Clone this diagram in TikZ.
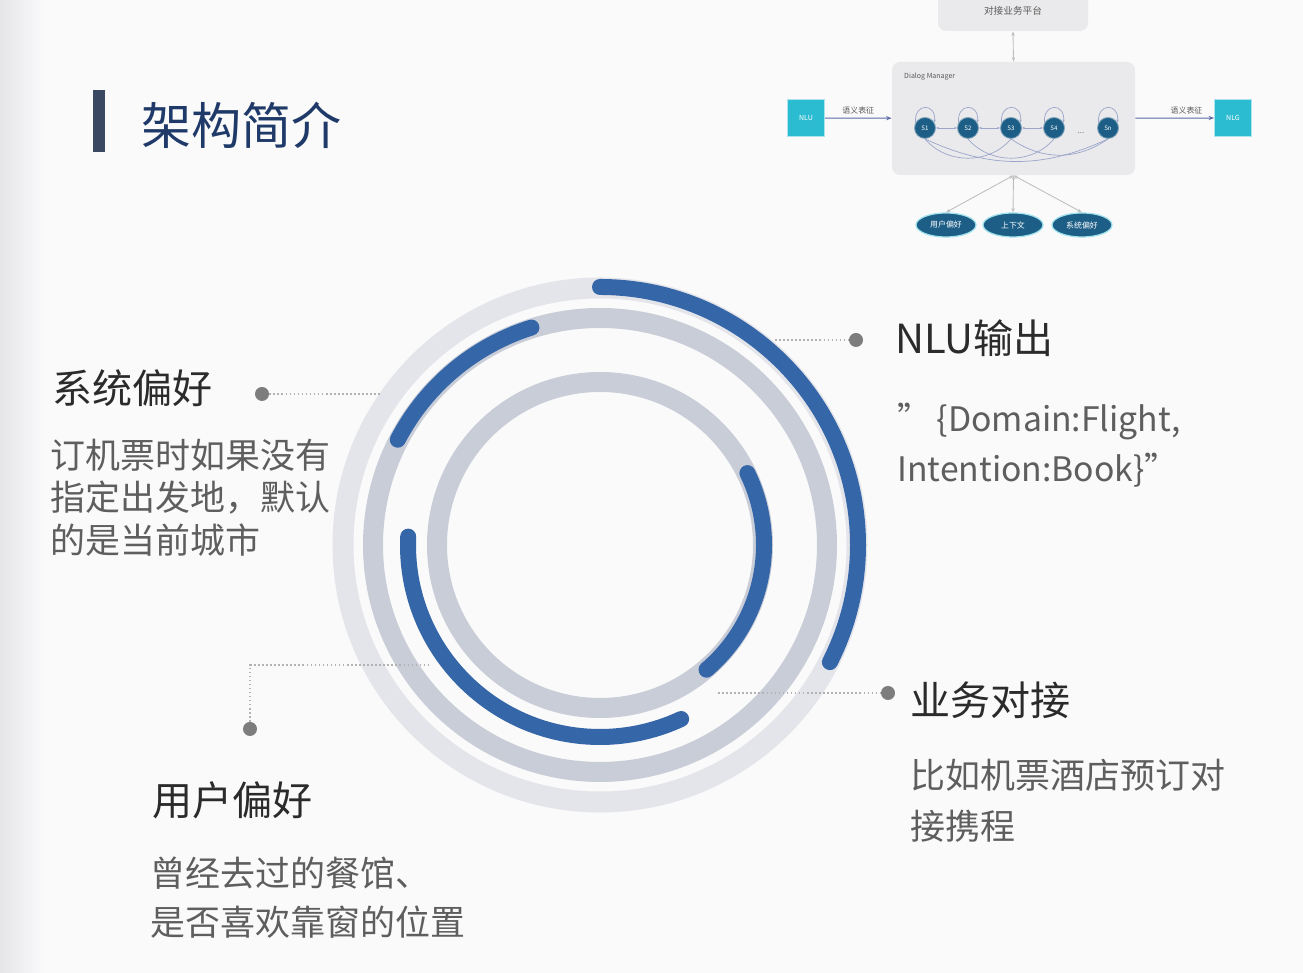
\documentclass[tikz,border=0pt]{standalone}
\usepackage{fontspec}
\setmainfont{Noto Sans CJK SC}
\usetikzlibrary{shapes.geometric, arrows.meta, positioning, calc}
\definecolor{pagebg}{HTML}{FAFAFB}
\definecolor{edgegray}{HTML}{E6E6E9}
\definecolor{ringblue}{HTML}{3566A8}
\definecolor{ringgray}{HTML}{C9CDD7}
\definecolor{ringlight}{HTML}{E4E5EA}
\definecolor{titlenavy}{HTML}{1F3A68}
\definecolor{barslate}{HTML}{3A4862}
\definecolor{headgray}{HTML}{2B2B2B}
\definecolor{bodygray}{HTML}{5E5E5E}
\definecolor{dotgray}{HTML}{7D7D7D}
\definecolor{statebl}{HTML}{1D5E86}
\definecolor{nlucyan}{HTML}{2CBCD2}
\definecolor{boxgray}{HTML}{EAEAEC}
\definecolor{linkblue}{HTML}{5A6AA6}

\begin{document}
\begin{tikzpicture}[x=0.2mm, y=0.2mm,
    head/.style={anchor=west, inner sep=0pt, text=headgray, font=\fontsize{22.8}{26}\selectfont},
    body/.style={anchor=west, inner sep=0pt, align=left, text=bodygray},
    leader/.style={black!30, dash pattern=on 0.9pt off 1.4pt, line width=0.6pt},
    pin/.style={circle, fill=dotgray, inner sep=0pt, minimum size=2.8mm},
    bluearc/.style={ringblue, line width=3.2mm, line cap=round},
    minibox/.style={rectangle, rounded corners=1.6mm, fill=boxgray, inner sep=0pt},
    cyanbox/.style={rectangle, fill=nlucyan, draw=nlucyan!40, line width=0.5pt, minimum size=7.4mm, inner sep=0pt, text=white, font=\fontsize{4}{5}\selectfont},
    state/.style={circle, fill=statebl, draw=statebl!55, line width=0.5pt, minimum size=4.2mm, inner sep=0pt, text=white, font=\fontsize{3.5}{4}\selectfont},
    pref/.style={ellipse, fill=statebl, draw=nlucyan!45, line width=0.7pt, minimum width=12mm, minimum height=4.8mm, inner sep=0pt, text=white, font=\fontsize{4.5}{5}\selectfont},
    link/.style={linkblue, line width=0.6pt, -{Stealth[length=1.1mm]}},
    stlink/.style={linkblue!60, line width=0.4pt},
    prefline/.style={black!25, line width=0.5pt, {Stealth[length=0.9mm]}-{Stealth[length=0.9mm]}},
    tinytext/.style={inner sep=0.5pt, text=black!65, font=\fontsize{4.5}{5}\selectfont}
]
    % page
    \clip (0,0) rectangle (1303,973);
    \fill[pagebg] (0,0) rectangle (1303,973);
    \shade[left color=edgegray, right color=pagebg] (0,0) rectangle (45,973);

    % Title
    \fill[barslate] (93,821) rectangle (105,883);
    \node[anchor=west, inner sep=0pt, text=titlenavy, font=\fontsize{28.5}{30}\selectfont] (title) at (141,848) {架构简介};

    % Rings
    \coordinate (c) at (600,428);
    \draw[ringlight, line width=4.2mm] (c) circle[radius=257];
    \draw[ringgray, line width=4mm] (c) circle[radius=227];
    \draw[ringgray, line width=4mm] (c) circle[radius=163];
    \draw[bluearc] ([shift={(90:258)}]c) arc[start angle=90, end angle=-27, radius=258];
    \draw[bluearc] ([shift={(107.5:228)}]c) arc[start angle=107.5, end angle=152.5, radius=228];
    \draw[bluearc] ([shift={(177.5:192)}]c) arc[start angle=177.5, end angle=295, radius=192];
    \draw[bluearc] ([shift={(26:164)}]c) arc[start angle=26, end angle=-49.5, radius=164];

    % NLU output
    \node[pin] (pnlu) at (856,633) {};
    \coordinate (lnlu) at (775,633);
    \draw[leader] (lnlu) -- (pnlu);
    \node[head] (hnlu) at (895,635) {NLU输出};
    \node[body, font=\fontsize{19.2}{28.5}\selectfont] (bnlu) at (897,528) {”\,\{Domain:Flight,\\Intention:Book\}”};

    % system preference
    \node[pin] (psys) at (262,579) {};
    \coordinate (lsys) at (380,579);
    \draw[leader] (psys) -- (lsys);
    \node[head] (hsys) at (52,585) {系统偏好};
    \node[body, font=\fontsize{19.9}{24.2}\selectfont] (bsys) at (50,475.5) {订机票时如果没有\\指定出发地，默认\\的是当前城市};

    % business
    \node[pin] (pbiz) at (888,280) {};
    \coordinate (lbiz) at (718,280);
    \draw[leader] (lbiz) -- (pbiz);
    \node[head] (hbiz) at (910,273) {业务对接};
    \node[body, font=\fontsize{19.9}{29}\selectfont] (bbiz) at (910,172.5) {比如机票酒店预订对\\接携程};

    % user preference
    \node[pin] (pusr) at (250,244) {};
    \coordinate (kusr) at (250,308);
    \coordinate (lusr) at (430,308);
    \draw[leader] (pusr) -- (kusr) -- (lusr);
    \node[head] (husr) at (152,173) {用户偏好};
    \node[body, font=\fontsize{19.9}{28}\selectfont] (busr) at (150,75.5) {曾经去过的餐馆、\\是否喜欢靠窗的位置};

    % Mini architecture
    \node[minibox, minimum width=30mm, minimum height=8mm, tinytext, font=\fontsize{5.5}{6}\selectfont] (plat) at (1013,962) {对接业务平台};
    \node[minibox, minimum width=48.6mm, minimum height=22.6mm] (dm) at (1013.5,854.5) {};
    \node[tinytext, anchor=west, font=\fontsize{4}{5}\selectfont] (dmlabel) at (903,896) {Dialog Manager};
    \node[cyanbox] (nlu) at (806,855) {NLU};
    \node[cyanbox] (nlg) at (1233,855) {NLG};
    \draw[link] (nlu) -- (dm) node[midway, above, tinytext, yshift=0.6mm] {语义表征};
    \draw[link] (dm) -- (nlg) node[pos=0.65, above, tinytext, yshift=0.6mm] {语义表征};
    \draw[prefline] (dm.north) -- (plat.south);

    \foreach \i/\x in {1/925,2/968,3/1011,4/1054,n/1108}
        \node[state] (s\i) at (\x,845) {S\i};
    \foreach \i in {1,2,3,4,n}
        \draw[stlink, -{Stealth[length=0.6mm]}] (s\i.150) .. controls +(95:4mm) and +(85:4mm) .. (s\i.30);
    \foreach \a/\b in {1/2,2/3,3/4}
        \draw[stlink, {Stealth[length=0.6mm]}-{Stealth[length=0.6mm]}] (s\a) -- (s\b);
    \node[tinytext, text=black!55] (sdots) at (1081,840) {...};
    \draw[stlink] (s1.south) to[out=-50, in=-130] (s3.south);
    \draw[stlink] (s2.south) to[out=-50, in=-130] (s4.south);
    \draw[stlink] (s1.south) to[out=-25, in=-155] (sn.south);
    \draw[stlink] (s3.south) to[out=-35, in=-145] (sn.south);

    \node[pref] (pu) at (946,748) {用户偏好};
    \node[pref] (pc) at (1013,748) {上下文};
    \node[pref] (ps) at (1082,748) {系统偏好};
    \foreach \p in {pu,pc,ps}
        \draw[prefline] (dm.south) -- (\p.north);
\end{tikzpicture}
\end{document}
